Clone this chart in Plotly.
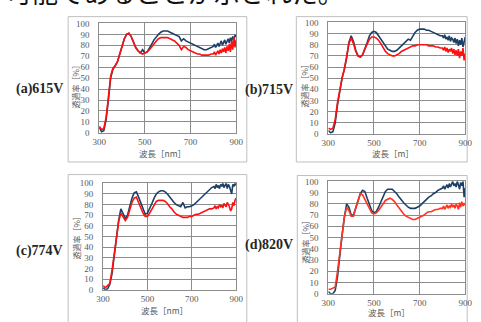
import plotly.graph_objects as go

# main spectrum 300-790 nm (10 nm steps), noisy tail 800-900 nm (5 nm steps)
wavelength_nm = [300, 310, 320, 330, 340, 350, 360, 370, 380, 390,
                 400, 410, 420, 430, 440, 450, 460, 470, 480, 490,
                 500, 510, 520, 530, 540, 550, 560, 570, 580, 590,
                 600, 610, 620, 630, 640, 650, 660, 670, 680, 690,
                 700, 710, 720, 730, 740, 750, 760, 770, 780, 790,
                 800, 805, 810, 815, 820, 825, 830, 835, 840, 845,
                 850, 855, 860, 865, 870, 875, 880, 885, 890, 895, 900]

a_navy = [5, 1, 2, 12, 30, 50, 58, 61, 65, 72,
          80, 86, 90, 91, 88, 83, 78, 75, 73, 76,
          73, 74, 77, 81, 85, 88, 90, 92, 93, 93,
          93, 92, 91, 90, 89, 88, 84, 86, 84, 83,
          82, 81, 80, 79, 78, 77, 76, 76, 77, 78,
          79, 81, 78, 80, 82, 79, 81, 84, 80, 83,
          85, 81, 84, 86, 82, 87, 84, 88, 85, 89, 88]
a_red = [6, 3, 4, 14, 32, 52, 59, 61, 65, 72,
         80, 86, 90, 91, 88, 83, 78, 75, 73, 72,
         73, 74, 76, 79, 82, 84, 86, 87, 87, 87,
         87, 86, 85, 84, 82, 80, 76, 79, 78, 76,
         75, 74, 73, 72, 72, 71, 71, 71, 71, 72,
         72, 74, 71, 73, 75, 72, 76, 73, 77, 74,
         78, 73, 79, 75, 81, 74, 84, 76, 88, 78, 85]

b_navy = [3, 1, 2, 10, 26, 40, 50, 58, 68, 82,
          88, 83, 75, 70, 69, 71, 76, 82, 88, 91,
          92, 91, 88, 85, 81, 78, 76, 75, 74, 74,
          75, 77, 79, 81, 83, 85, 84, 88, 91, 93,
          94, 94, 94, 93, 93, 92, 91, 90, 89, 88,
          88, 86, 89, 85, 87, 84, 88, 83, 86, 85,
          82, 86, 81, 85, 79, 84, 80, 86, 78, 83, 87]
b_red = [5, 4, 5, 13, 28, 40, 50, 58, 68, 81,
         86, 81, 74, 70, 69, 71, 76, 81, 85, 87,
         87, 86, 84, 81, 77, 74, 72, 71, 70, 70,
         71, 72, 74, 75, 76, 77, 78, 79, 79, 80,
         80, 80, 80, 80, 79, 79, 79, 78, 78, 77,
         77, 75, 78, 74, 77, 73, 76, 74, 77, 72,
         76, 71, 75, 70, 76, 68, 74, 70, 77, 66, 72]

c_navy = [2, 0, 1, 5, 15, 32, 50, 65, 76, 72,
          67, 70, 78, 86, 91, 92, 87, 81, 75, 71,
          72, 76, 81, 86, 90, 92, 93, 93, 92, 90,
          87, 85, 82, 80, 79, 78, 82, 77, 78, 78,
          79, 80, 82, 84, 86, 88, 90, 92, 94, 96,
          97, 95, 99, 96, 98, 95, 99, 97, 100, 96,
          98, 100, 95, 99, 97, 92, 90, 99, 97, 100, 98]
c_red = [4, 2, 4, 6, 18, 34, 50, 64, 72, 68,
         65, 68, 75, 82, 86, 87, 82, 77, 72, 69,
         69, 72, 76, 80, 83, 84, 84, 84, 83, 81,
         78, 76, 73, 71, 70, 69, 68, 68, 68, 69,
         69, 70, 71, 71, 72, 73, 74, 75, 76, 76,
         77, 79, 76, 78, 77, 80, 78, 79, 77, 81,
         79, 78, 82, 80, 78, 74, 76, 82, 79, 84, 86]

d_navy = [2, 0, 0, 3, 15, 35, 52, 68, 80, 77,
          70, 70, 76, 83, 89, 92, 91, 85, 79, 74,
          72, 73, 77, 82, 87, 91, 93, 93, 93, 91,
          89, 86, 83, 81, 79, 77, 76, 76, 76, 77,
          78, 80, 82, 84, 86, 87, 89, 90, 92, 93,
          94, 96, 93, 95, 97, 94, 98, 95, 97, 100,
          96, 98, 95, 100, 97, 93, 99, 96, 100, 86, 94]
d_red = [4, 4, 5, 6, 20, 36, 52, 68, 77, 74,
         69, 69, 76, 83, 89, 88, 84, 79, 75, 72,
         71, 72, 74, 77, 80, 83, 84, 85, 84, 82,
         79, 76, 73, 71, 69, 68, 67, 66, 66, 67,
         68, 69, 70, 72, 73, 73, 74, 75, 75, 76,
         76, 78, 75, 77, 79, 76, 78, 77, 80, 77,
         79, 76, 80, 78, 75, 81, 77, 82, 78, 80, 79]

panel_labels = ["(a)615V", "(b)715V", "(c)774V", "(d)820V"]
x_titles = ["波長［nm］", "波長［m］", "波長［nm］", "波長［m］"]
y_title = "透過率［%］"
x_ticks = [300, 500, 700, 900]
y_ticks = [0, 10, 20, 30, 40, 50, 60, 70, 80, 90, 100]
header_text = "可能であることが示された。"

W, H = 481, 322
def px(x):
    return x / W
def py(y):
    return 1 - y / H

NAVY = "#1B3F66"
RED = "#FF1010"
RED_D = "#FF3320"
GRID = "#8C8C8C"
TXT = "#595959"
SERIF = "Liberation Serif, Times New Roman, serif"

series = [(a_navy, a_red, RED), (b_navy, b_red, RED),
          (c_navy, c_red, RED), (d_navy, d_red, RED_D)]

plot_boxes = [(95, 19, 236, 132), (331, 18, 472, 133),
              (99, 184, 236, 294), (331, 182, 472, 298)]
frame_boxes = [(63, 12, 247, 162), (298, 12, 474, 162),
               (63, 175, 247, 330), (299, 176, 474, 330)]
label_pos = [(33, 87), (270, 88), (33, 254), (270, 248)]
ytitle_pos = [(70, 82), (306, 82), (72, 238), (307, 243)]
xtitle_pos = [(160, 153), (398, 153), (162, 315), (393, 317)]

fig = go.Figure()
layout = dict(width=W, height=H, margin=dict(l=0, r=0, t=0, b=0),
              paper_bgcolor="white", plot_bgcolor="white", showlegend=False)
annotations = []
shapes = []

for i, (nv, rd, rcol) in enumerate(series):
    n = i + 1
    xa = "x" if n == 1 else f"x{n}"
    ya = "y" if n == 1 else f"y{n}"
    fig.add_trace(go.Scatter(x=wavelength_nm, y=nv, mode="lines",
                             line=dict(color=NAVY, width=1.6), xaxis=xa, yaxis=ya))
    fig.add_trace(go.Scatter(x=wavelength_nm, y=rd, mode="lines",
                             line=dict(color=rcol, width=1.6), xaxis=xa, yaxis=ya))
    l, t, r, b = plot_boxes[i]
    xkey = "xaxis" if n == 1 else f"xaxis{n}"
    ykey = "yaxis" if n == 1 else f"yaxis{n}"
    layout[xkey] = dict(domain=[px(l), px(r)], range=[300, 900], anchor=ya,
                        tickvals=x_ticks, showgrid=True, gridcolor=GRID, gridwidth=1,
                        showline=True, linecolor=GRID, mirror=True, zeroline=False,
                        ticks="", ticklabelstandoff=0,
                        tickfont=dict(family=SERIF, size=9, color=TXT))
    layout[ykey] = dict(domain=[py(b), py(t)], range=[0, 100], anchor=xa,
                        tickvals=y_ticks, showgrid=True, gridcolor=GRID, gridwidth=1,
                        showline=True, linecolor=GRID, mirror=True, zeroline=False,
                        ticks="", ticklabelstandoff=7,
                        tickfont=dict(family=SERIF, size=9, color=TXT))
    fl, ft, fr, fb = frame_boxes[i]
    shapes.append(dict(type="rect", xref="paper", yref="paper",
                       x0=px(fl), x1=px(fr), y0=py(fb), y1=py(ft),
                       line=dict(color="#BFBFBF", width=1), layer="below"))
    lx, ly = label_pos[i]
    annotations.append(dict(text=f"<b>{panel_labels[i]}</b>", x=px(lx), y=py(ly),
                            xref="paper", yref="paper", showarrow=False,
                            xanchor="center", yanchor="middle",
                            font=dict(family=SERIF, size=14, color="#262626")))
    tx, ty = ytitle_pos[i]
    annotations.append(dict(text=y_title, x=px(tx), y=py(ty), xref="paper", yref="paper",
                            showarrow=False, textangle=-90, xanchor="center", yanchor="middle",
                            font=dict(family="Noto Sans CJK JP", size=8, color=TXT)))
    tx, ty = xtitle_pos[i]
    annotations.append(dict(text=x_titles[i], x=px(tx), y=py(ty), xref="paper", yref="paper",
                            showarrow=False, xanchor="center", yanchor="middle",
                            font=dict(family="Noto Sans CJK JP", size=8.5, color=TXT)))

annotations.append(dict(text=header_text, x=px(-3), y=py(-14), xref="paper", yref="paper",
                        showarrow=False, xanchor="left", yanchor="middle",
                        font=dict(family="Noto Sans CJK JP", size=26, color="#111111")))

layout["annotations"] = annotations
layout["shapes"] = shapes
fig.update_layout(**layout)
fig.write_html("out.html", config={"displayModeBar": False},
               post_script="document.body.style.margin='0';document.body.style.overflow='hidden';")
